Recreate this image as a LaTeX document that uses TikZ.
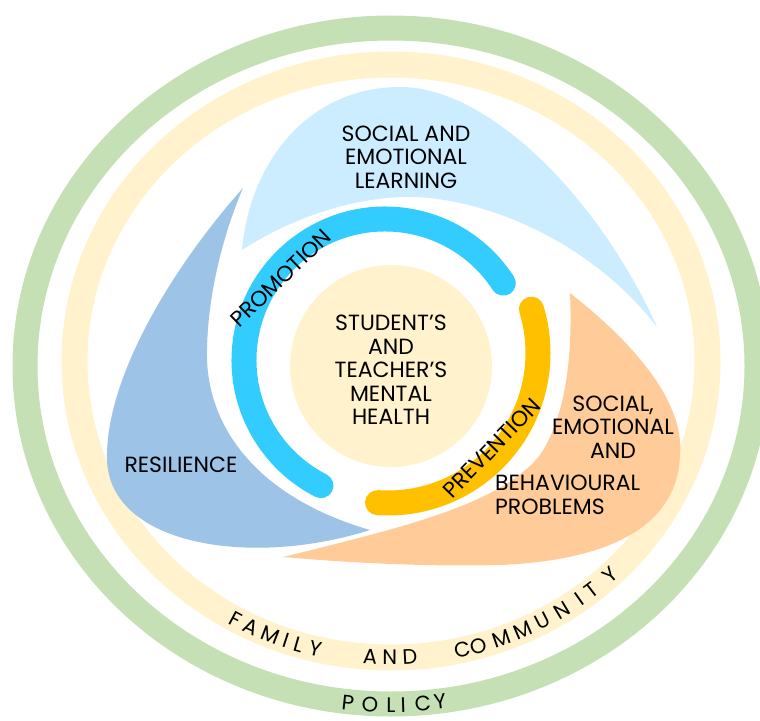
\documentclass[tikz,border=0pt]{standalone}
\usepackage{fontspec}
\setmainfont{Poppins}
\usepackage{tikz}

\definecolor{polgreen}{HTML}{C5E0B4}
\definecolor{famcream}{HTML}{FFF2CC}
\definecolor{selblue}{HTML}{CCECFF}
\definecolor{resblue}{HTML}{9DC3E6}
\definecolor{probpeach}{HTML}{FFCC99}
\definecolor{promcyan}{HTML}{33CCFF}
\definecolor{prevgold}{HTML}{FFC000}

\tikzset{
  lbl/.style={font=\fontsize{22}{23.5}\selectfont, align=center, inner sep=0pt},
  ringletter/.style={font=\fontsize{21}{21}\selectfont, inner sep=0pt},
  band/.style={line width=25pt, line cap=round},
}

\begin{document}
\begin{tikzpicture}[x=1pt,y=-1pt]
\useasboundingbox (0,0) rectangle (760,720);
% outer rings
\draw[polgreen, line width=25pt] (391,366) ellipse [x radius=366, y radius=338];
\draw[famcream, line width=26pt] (391,361) ellipse [x radius=316.5, y radius=296.5];
% the three petals
\fill[selblue] (242,250) .. controls (250,160) and (310,87) .. (400,87)
  .. controls (490,87) and (600,200) .. (657,327)
  .. controls (590,240) and (480,195) .. (403,197)
  .. controls (340,199) and (280,225) .. (242,250) -- cycle;
\fill[resblue] (243,188) .. controls (170,270) and (105,380) .. (107,460)
  .. controls (110,545) and (250,568) .. (370,530)
  .. controls (250,495) and (205,420) .. (207,350)
  .. controls (208,290) and (225,230) .. (243,188) -- cycle;
\fill[probpeach] (570,293) .. controls (630,340) and (685,400) .. (680,455)
  .. controls (678,520) and (620,560) .. (500,565)
  .. controls (420,567) and (340,562) .. (283,557)
  .. controls (400,528) and (500,505) .. (540,455)
  .. controls (570,410) and (572,340) .. (570,293) -- cycle;
% core
\fill[famcream] (391,366) circle (101);
% promotion and prevention
\draw[promcyan, band] (385,360) ++(-33:141) arc[start angle=-33, end angle=-243, radius=141];
\draw[prevgold, band] (388,353) ++(-17:150) arc[start angle=-17, end angle=94, radius=150];

\node[lbl] (sel) at (406,157) {SOCIAL AND\\EMOTIONAL\\LEARNING};
\node[lbl] (core) at (391,370) {STUDENT’S\\AND\\TEACHER’S\\MENTAL\\HEALTH};
\node[lbl] (res) at (181,465) {RESILIENCE};
\node[lbl] (seb) at (613,427) {SOCIAL,\\EMOTIONAL\\AND};
\node[lbl, align=left, anchor=west] (beh) at (495,495) {BEHAVIOURAL\\PROBLEMS};
\node[lbl, rotate=44] (promo) at (281,278) {PROMOTION};
\node[lbl, rotate=46] (prev) at (492,448) {PREVENTION};

% family and community, letter by letter
\foreach \ch/\a [count=\i] in {F/119.5, A/116.2, M/112.35, I/109.3, L/106.9, Y/103.85,
    A/93.8, N/90.2, D/86.6,
    C/77.0, O/73.9, M/69.5, M/65.35, U/61.3, N/57.3, I/53.35, T/50.6, Y/46.2}
  \node[ringletter, rotate={atan2(296.5*cos(\a),316.5*sin(\a))}] (fam\i)
    at ({391+316.5*cos(\a)}, {361+296.5*sin(\a)}) {\ch};
% policy
\foreach \ch/\a [count=\i] in {P/96.75, O/93.3, L/90, I/88.1, C/85.0, Y/82.3}
  \node[ringletter, rotate={atan2(339*cos(\a),366*sin(\a))}] (pol\i)
    at ({391+366*cos(\a)}, {366+339*sin(\a)}) {\ch};
\end{tikzpicture}
\end{document}
